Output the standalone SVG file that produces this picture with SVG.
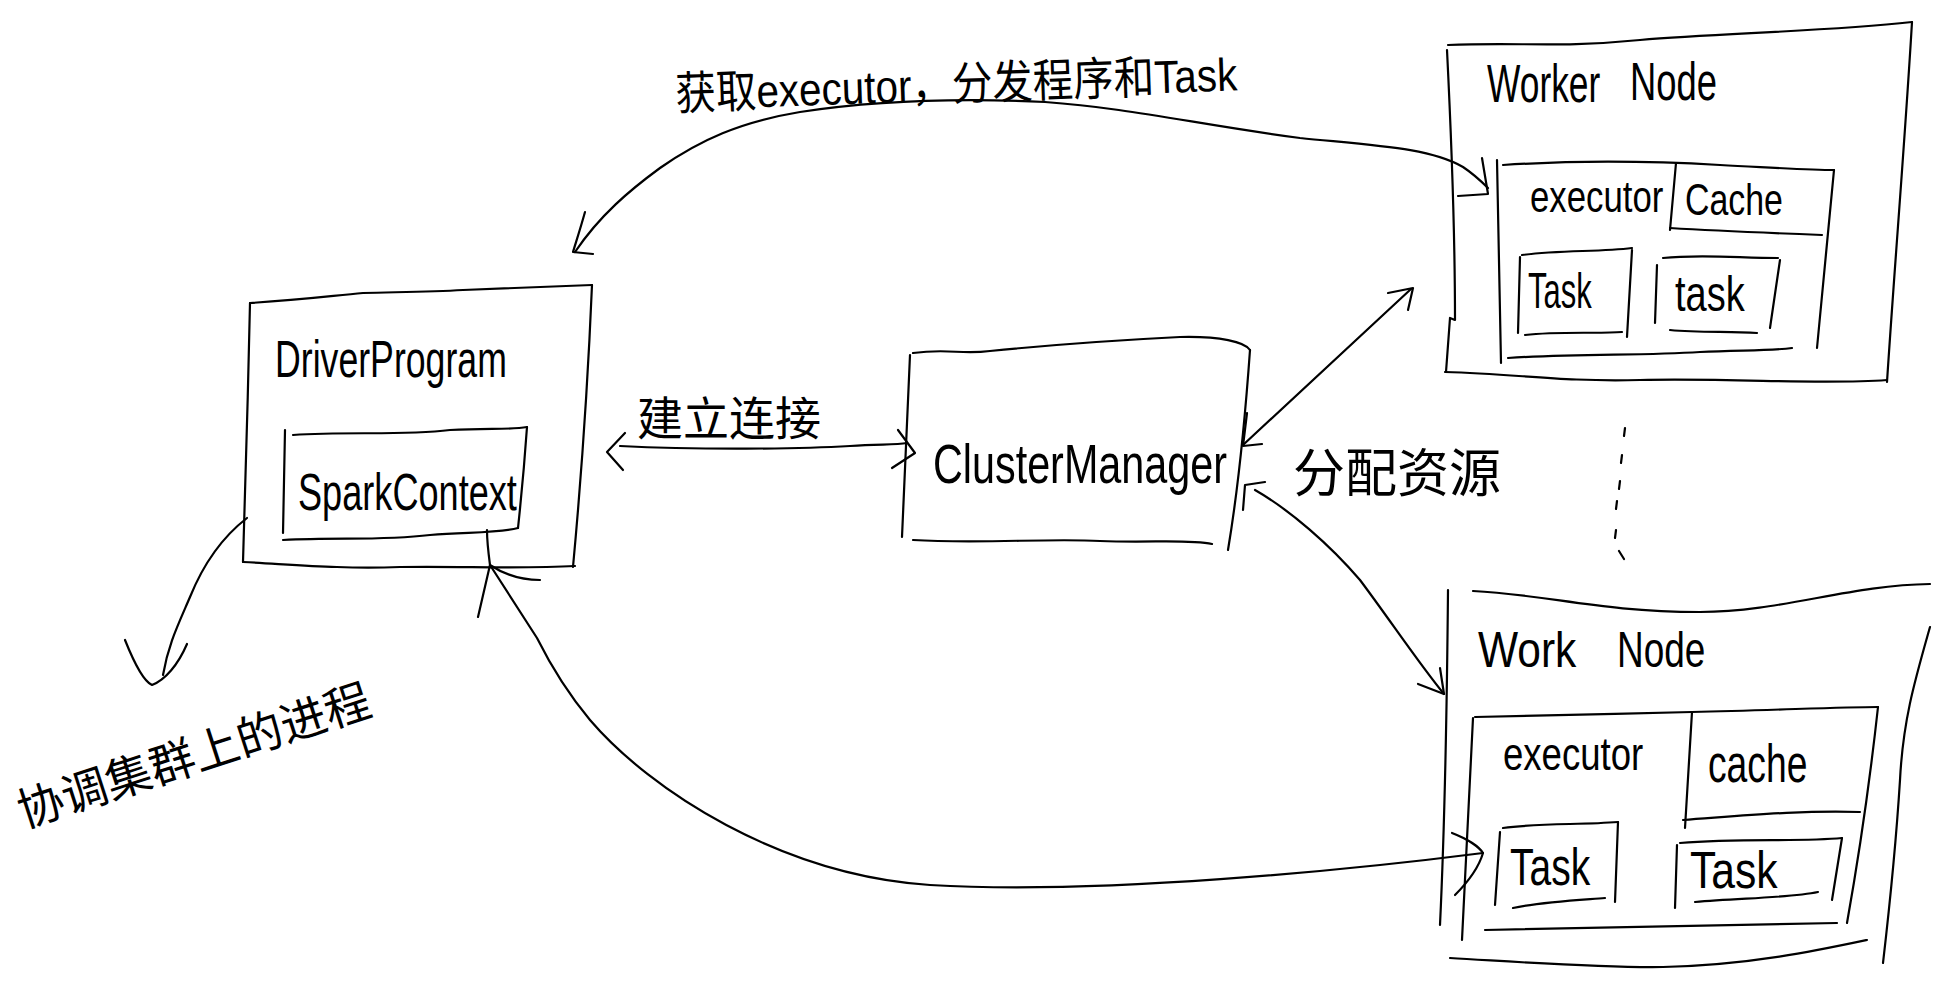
<svg xmlns="http://www.w3.org/2000/svg" width="1952" height="988" viewBox="0 0 1952 988">
<style>
.ln{fill:none;stroke:#000;stroke-width:2.2;stroke-linecap:round;stroke-linejoin:round}
.t{font-family:"Liberation Sans",Arial,sans-serif;fill:#000}
.c{font-family:"Liberation Sans","Noto Sans CJK SC",sans-serif;fill:#000}
</style>
<rect width="1952" height="988" fill="#fff"/>

<g id="driver">
<path class="ln" d="M250,303 C300,300 330,296 363,293 C400,292 430,292 463,290 C520,288 560,286 592,285"/>
<path class="ln" d="M592,285 C588,380 582,470 573,567"/>
<path class="ln" d="M243,562 C300,565 340,569 400,567 C460,566 520,569 575,566"/>
<path class="ln" d="M250,303 C248,390 246,470 243,562"/>
<text class="t" font-size="52" transform="translate(275,377) scale(0.686,1)">DriverProgram</text>
</g>

<g id="sparkcontext">
<path class="ln" d="M293,435 C350,431 400,436 450,430 C490,428 510,430 527,427"/>
<path class="ln" d="M527,427 C524,470 521,500 518,528"/>
<path class="ln" d="M283,540 C340,537 380,541 430,535 C470,532 500,533 518,528"/>
<path class="ln" d="M285,430 L283,533"/>
<text class="t" font-size="52" transform="translate(298,510) scale(0.695,1)">SparkContext</text>
</g>

<g id="clustermanager">
<path class="ln" d="M913,353 C950,348 960,355 990,351 C1050,345 1120,340 1180,337 C1220,336 1245,342 1250,350"/>
<path class="ln" d="M1250,350 C1245,420 1238,490 1228,550"/>
<path class="ln" d="M913,540 C980,544 1050,538 1100,541 C1150,543 1190,539 1212,544"/>
<path class="ln" d="M910,355 L902,537"/>
<text class="t" font-size="56" transform="translate(933,483) scale(0.738,1)">ClusterManager</text>
</g>

<g id="worker-top">
<path class="ln" d="M1448,45 C1520,42 1560,48 1640,40 C1720,33 1820,32 1912,22"/>
<path class="ln" d="M1912,22 C1905,140 1895,260 1887,382"/>
<path class="ln" d="M1445,372 C1520,374 1560,382 1640,380 C1740,378 1820,385 1887,380"/>
<path class="ln" d="M1447,50 C1452,150 1455,240 1455,320 L1450,318 L1446,372"/>
<text class="t" font-size="54" transform="translate(1487,102) scale(0.655,1)">Worker</text>
<text class="t" font-size="54" transform="translate(1630,100) scale(0.674,1)">Node</text>
<g id="executor-top">
<path class="ln" d="M1497,160 L1501,363"/>
<path class="ln" d="M1503,165 C1580,160 1650,161 1720,165 C1780,168 1810,170 1834,170"/>
<path class="ln" d="M1834,170 C1828,230 1822,290 1817,348"/>
<path class="ln" d="M1508,358 C1580,353 1640,356 1700,352 C1740,350 1770,351 1792,348"/>
<text class="t" font-size="44" transform="translate(1530,212) scale(0.79,1)">executor</text>
</g>
<g id="cache-top">
<path class="ln" d="M1676,163 L1670,230"/>
<path class="ln" d="M1670,228 C1720,231 1770,233 1822,235"/>
<text class="t" font-size="44" transform="translate(1685,215) scale(0.77,1)">Cache</text>
</g>
<g id="task-top-1">
<path class="ln" d="M1522,255 C1560,250 1600,252 1632,248"/>
<path class="ln" d="M1632,250 L1627,337"/>
<path class="ln" d="M1525,335 C1560,331 1600,334 1622,332"/>
<path class="ln" d="M1520,257 L1518,333"/>
<text class="t" font-size="50" transform="translate(1528,308) scale(0.62,1)">Task</text>
</g>
<g id="task-top-2">
<path class="ln" d="M1663,258 C1700,254 1740,258 1778,258"/>
<path class="ln" d="M1780,260 L1770,328"/>
<path class="ln" d="M1670,330 C1700,333 1730,331 1757,333"/>
<path class="ln" d="M1657,265 L1655,323"/>
<text class="t" font-size="50" transform="translate(1675,311) scale(0.76,1)">task</text>
</g>
</g>

<g id="worker-bottom">
<path class="ln" d="M1473,591 C1550,595 1600,612 1700,612 C1780,612 1850,585 1930,584"/>
<path class="ln" d="M1448,590 C1447,700 1445,820 1440,925"/>
<path class="ln" d="M1930,627 C1915,680 1903,720 1900,780 C1895,860 1888,920 1883,963"/>
<path class="ln" d="M1450,958 C1520,962 1600,968 1663,967 C1750,965 1820,950 1867,940"/>
<text class="t" font-size="50" transform="translate(1478,667) scale(0.85,1)">Work</text>
<text class="t" font-size="50" transform="translate(1617,667) scale(0.74,1)">Node</text>
<g id="executor-bottom">
<path class="ln" d="M1475,717 C1540,715 1620,714 1692,712 C1780,710 1840,707 1878,707"/>
<path class="ln" d="M1473,718 L1462,940"/>
<path class="ln" d="M1878,707 C1870,780 1860,850 1847,923"/>
<path class="ln" d="M1485,930 C1580,928 1700,926 1837,923"/>
<text class="t" font-size="46" transform="translate(1503,770) scale(0.795,1)">executor</text>
</g>
<g id="cache-bottom">
<path class="ln" d="M1692,712 L1685,828"/>
<path class="ln" d="M1683,820 C1740,816 1800,810 1860,812"/>
<text class="t" font-size="54" transform="translate(1708,782) scale(0.69,1)">cache</text>
</g>
<g id="task-bottom-1">
<path class="ln" d="M1503,828 C1540,823 1580,825 1618,822"/>
<path class="ln" d="M1618,822 L1615,902"/>
<path class="ln" d="M1513,908 C1540,902 1580,900 1605,898"/>
<path class="ln" d="M1500,832 L1495,905"/>
<text class="t" font-size="52" transform="translate(1510,885) scale(0.75,1)">Task</text>
</g>
<g id="task-bottom-2">
<path class="ln" d="M1680,843 C1740,838 1800,842 1842,838"/>
<path class="ln" d="M1842,838 L1832,900"/>
<path class="ln" d="M1695,902 C1740,898 1790,898 1818,892"/>
<path class="ln" d="M1677,845 L1675,908"/>
<text class="t" font-size="52" transform="translate(1690,888) scale(0.82,1)">Task</text>
</g>
</g>

<g id="ellipsis">
<path class="ln" d="M1625,428 L1624,436 M1622,455 L1621,463 M1620,481 L1619,489 M1617,501 L1616,509 M1616,530 L1615,538 M1619,551 L1624,559"/>
</g>

<g id="connectors">
<path class="ln" d="M620,446 C700,450 800,449 850,446 C880,444 895,445 907,443"/>
<path class="ln" d="M625,433 L607,452 L623,470"/>
<path class="ln" d="M898,430 L915,453 L892,468"/>

<path class="ln" d="M575,252 C600,215 630,190 660,168 C700,140 740,122 800,112 C880,100 960,98 1045,102 C1130,108 1200,125 1300,138 C1380,146 1430,148 1463,167 C1475,175 1482,182 1488,188"/>
<path class="ln" d="M585,212 C580,230 575,245 573,252 L593,254"/>
<path class="ln" d="M1482,158 L1488,194 L1458,196"/>

<path class="ln" d="M1243,445 L1411,289"/>
<path class="ln" d="M1247,413 L1243,446 L1262,444"/>
<path class="ln" d="M1388,293 L1413,288 L1408,310"/>

<path class="ln" d="M1255,490 C1290,510 1330,545 1360,580 C1390,620 1420,665 1444,694"/>
<path class="ln" d="M1265,482 L1245,485 L1243,510"/>
<path class="ln" d="M1440,668 L1444,694 L1418,684"/>

<path class="ln" d="M1483,853 C1350,870 1100,895 930,885 C780,875 650,790 590,720 C565,690 548,660 537,638 L490,565 C488,550 487,540 487,530"/>
<path class="ln" d="M478,617 L490,565 C505,575 520,580 540,580"/>
<path class="ln" d="M1452,833 C1470,840 1480,848 1483,853 C1478,870 1465,885 1455,895"/>

<path class="ln" d="M247,518 C225,535 205,560 190,597 C178,625 168,645 163,675"/>
<path class="ln" d="M125,640 C135,665 145,682 152,685 C165,680 178,665 187,644"/>
</g>

<g id="labels">
<text class="c" font-size="46" transform="translate(676,110) rotate(-2) scale(0.88,1)">获取executor，分发程序和Task</text>
<text class="c" font-size="46" transform="translate(637,435)">建立连接</text>
<text class="c" font-size="52" transform="translate(1293,492)">分配资源</text>
<text class="c" font-size="46" transform="translate(24,828) rotate(-18)">协调集群上的进程</text>
</g>
</svg>
